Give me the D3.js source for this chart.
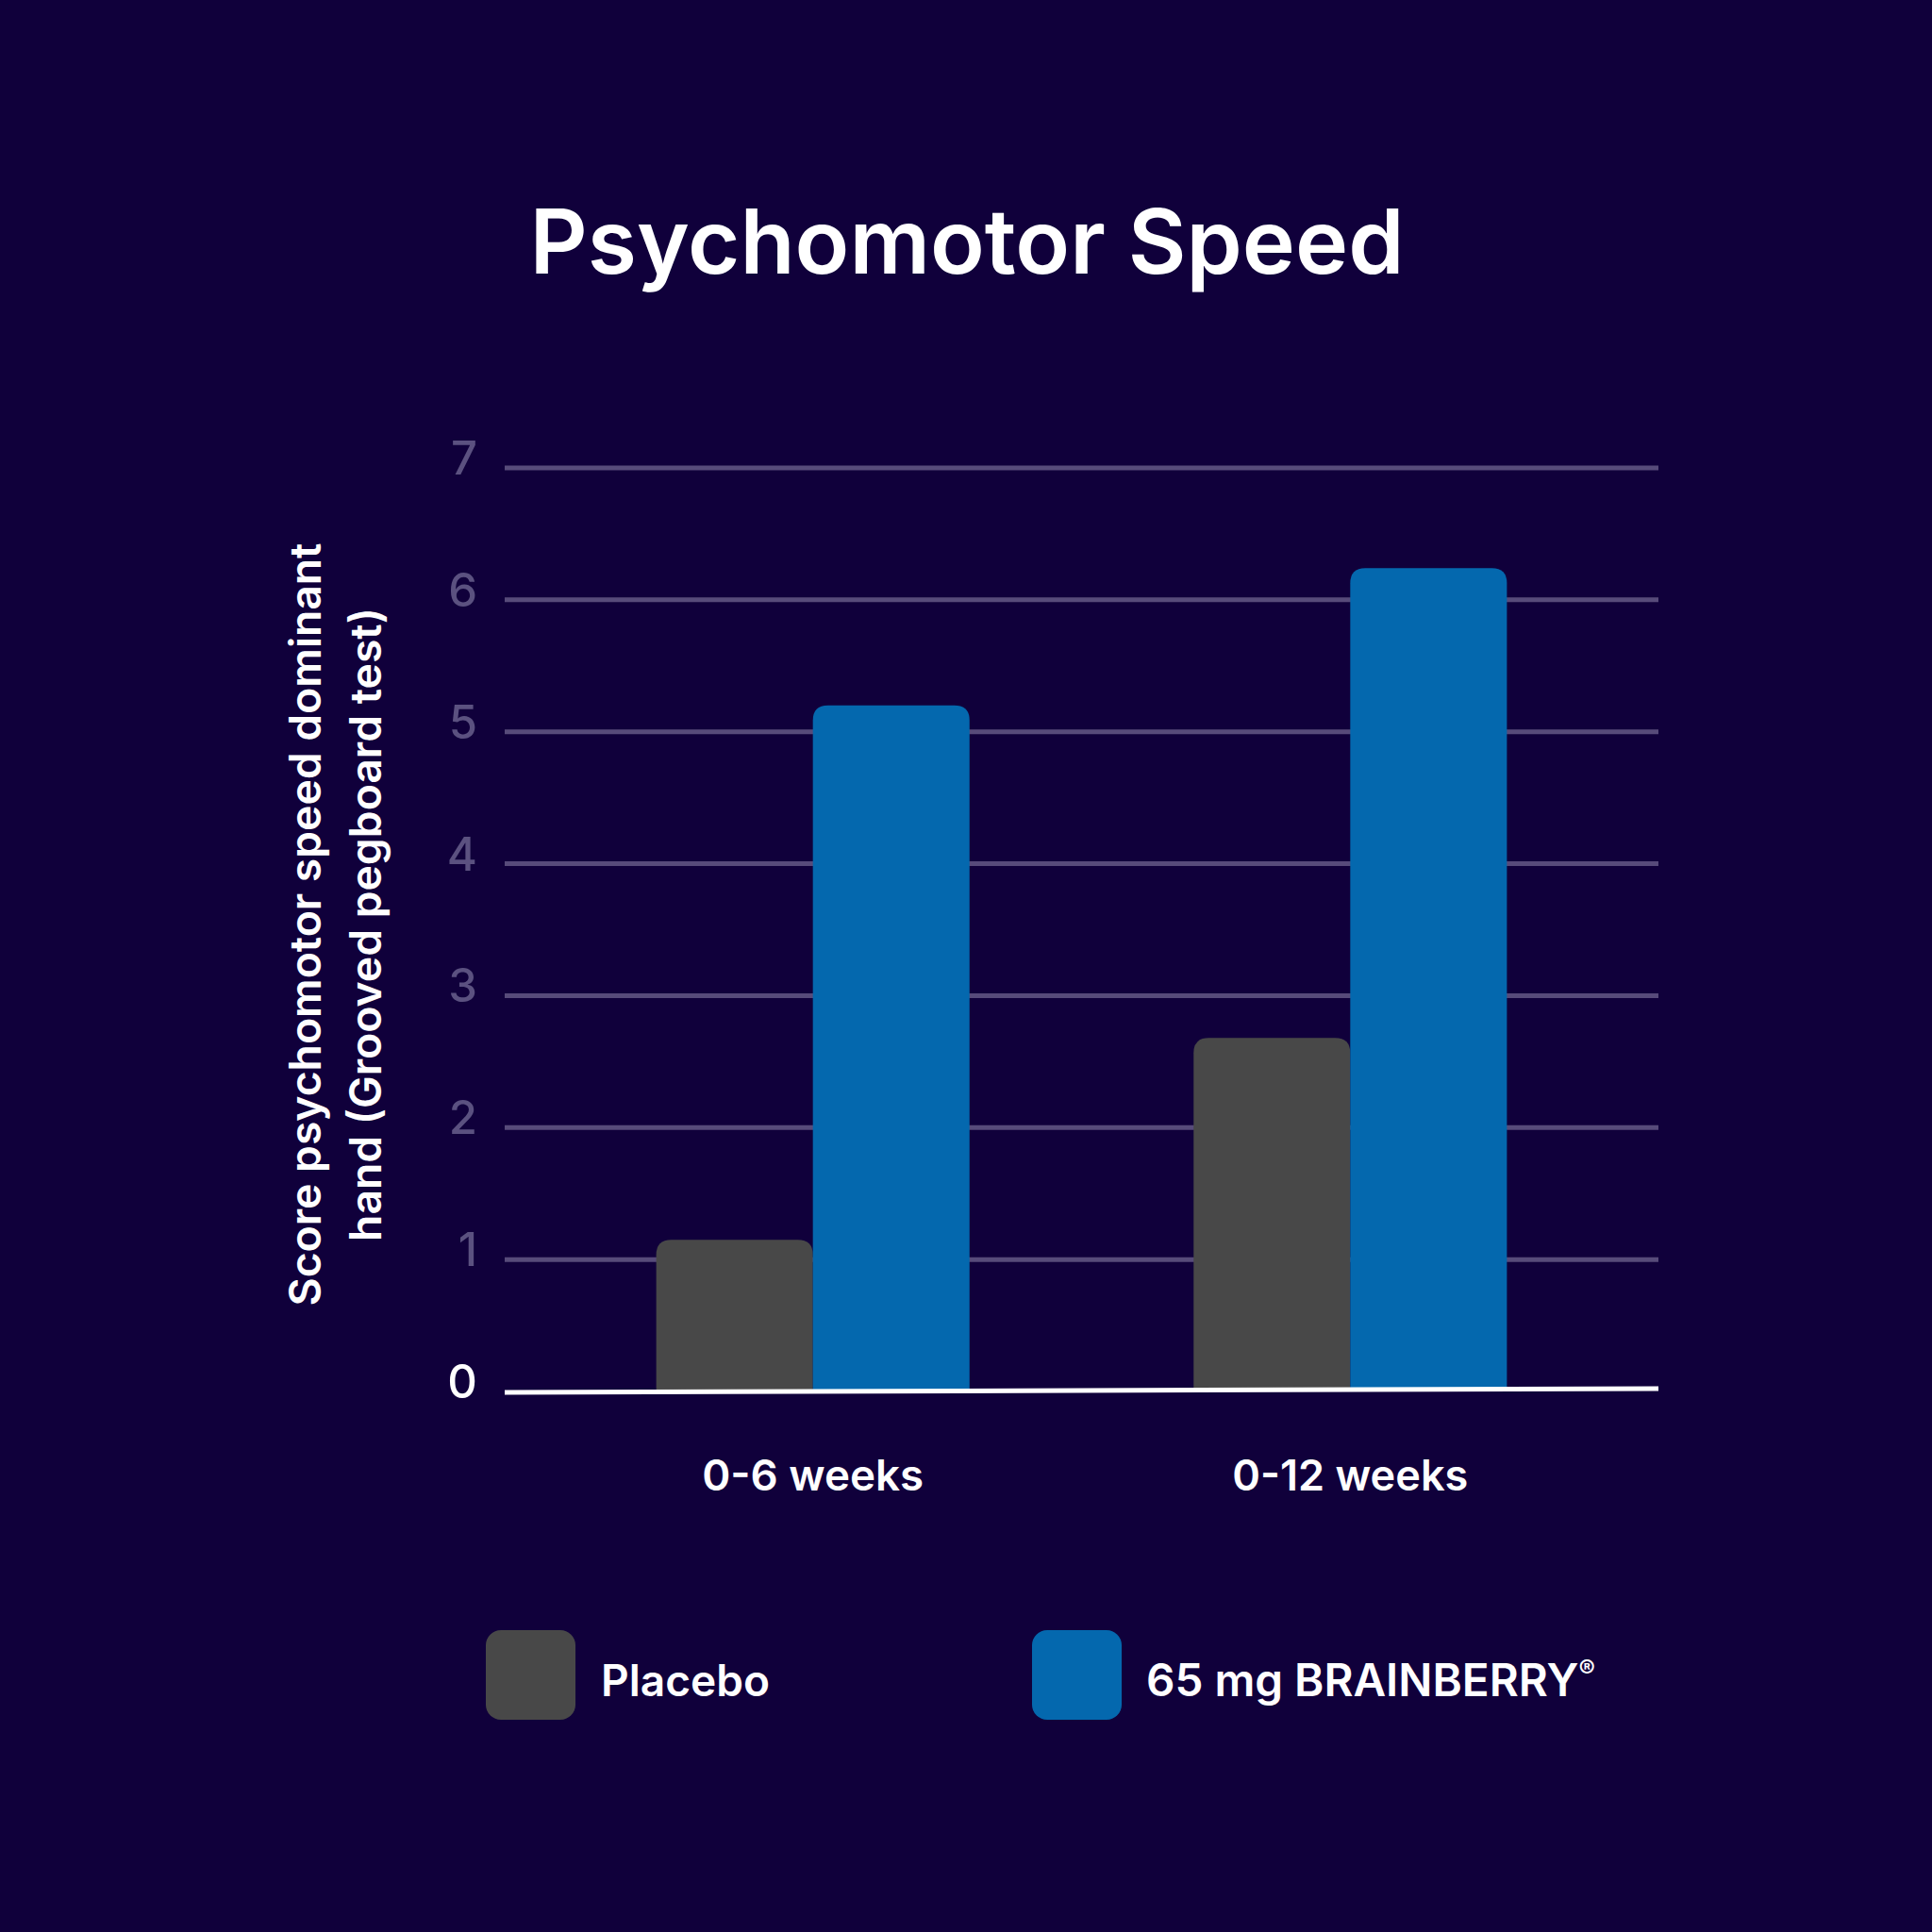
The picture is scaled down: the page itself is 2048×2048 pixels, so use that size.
<!DOCTYPE html>
<html>
<head>
<meta charset="utf-8">
<script src="https://cdn.jsdelivr.net/npm/d3@7"></script>
<style>
  html, body { margin: 0; padding: 0; background: #10003b; }
  svg { display: block; }
  text { font-family: Inter, "Open Sans", sans-serif; }
</style>
</head>
<body>
<svg id="chart" width="2048" height="2048"></svg>
<script>
const categories = ["0-6 weeks", "0-12 weeks"];
const seriesNames = ["Placebo", "65 mg BRAINBERRY"];
const placebo = [1.15, 2.68];
const brainberry = [5.2, 6.24];
const yTicks = [0, 1, 2, 3, 4, 5, 6, 7];
const chartTitle = "Psychomotor Speed";
const yTitleLines = ["Score psychomotor speed dominant", "hand (Grooved pegboard test)"];

const colors = { bg: "#10003b", placebo: "#484848", brain: "#0468ae", grid: "#574b7a", tick: "#5b5180", zero: "#ffffff", text: "#ffffff" };

const svg = d3.select("#chart");
svg.append("rect").attr("width", 2048).attr("height", 2048).attr("fill", colors.bg);

const plotLeft = 535, plotRight = 1758, plotTop = 496, plotBottom = 1475;

const y = d3.scaleLinear().domain([0, 7]).range([plotBottom, plotTop]);
const x0 = d3.scaleBand().domain(categories).range([plotLeft, plotRight]).paddingInner(0.417).paddingOuter(0.282);
const x1 = d3.scaleBand().domain(seriesNames).range([0, x0.bandwidth()]).padding(0);

function fit(sel, target) {
  const node = sel.node();
  const fs = parseFloat(sel.attr("font-size"));
  const len = node.getComputedTextLength();
  if (len > 0) sel.attr("font-size", fs * target / len);
}

// gridlines
const g = svg.append("g");
g.selectAll("line.grid").data(yTicks.filter(d => d > 0)).join("line")
  .attr("class", "grid")
  .attr("x1", plotLeft).attr("x2", plotRight)
  .attr("y1", d => y(d)).attr("y2", d => y(d))
  .attr("stroke", colors.grid).attr("stroke-width", 5);

// tick labels
g.selectAll("text.tick").data(yTicks).join("text")
  .attr("class", "tick")
  .attr("x", 506)
  .attr("y", d => y(d) + 7)
  .attr("text-anchor", "end")
  .attr("font-size", 49)
  .attr("font-weight", 500)
  .attr("fill", d => d === 0 ? "#ffffff" : colors.tick)
  .text(d => d);

// bars with rounded top corners
function topRounded(x, yTop, w, h, r) {
  r = Math.min(r, h, w / 2);
  return `M${x},${yTop + h} L${x},${yTop + r} Q${x},${yTop} ${x + r},${yTop} L${x + w - r},${yTop} Q${x + w},${yTop} ${x + w},${yTop + r} L${x + w},${yTop + h} Z`;
}
const barData = [];
categories.forEach((c, i) => {
  barData.push({ cat: c, series: seriesNames[0], v: placebo[i], color: colors.placebo });
  barData.push({ cat: c, series: seriesNames[1], v: brainberry[i], color: colors.brain });
});
svg.append("g").selectAll("path").data(barData).join("path")
  .attr("d", d => {
    const bx = x0(d.cat) + x1(d.series);
    const yt = y(d.v);
    return topRounded(bx, yt, x1.bandwidth(), y(0) - yt, 16);
  })
  .attr("fill", d => d.color);

// zero line
svg.append("line")
  .attr("x1", plotLeft).attr("x2", plotRight)
  .attr("y1", y(0) + 1).attr("y2", y(0) - 3)
  .attr("stroke", colors.zero).attr("stroke-width", 5);

// category labels
const catWidths = [235, 250];
svg.append("g").selectAll("text").data(categories).join("text")
  .attr("x", d => x0(d) + x0.bandwidth() / 2)
  .attr("y", 1580)
  .attr("text-anchor", "middle")
  .attr("font-size", 48)
  .attr("font-weight", 600)
  .attr("fill", colors.text)
  .text(d => d)
  .each(function(d, i) { fit(d3.select(this), catWidths[i]); });

// title
const t = svg.append("text")
  .attr("x", 1025).attr("y", 290)
  .attr("text-anchor", "middle")
  .attr("font-size", 106)
  .attr("font-weight", 600)
  .attr("fill", colors.text)
  .text(chartTitle);
fit(t, 927);

// y-axis title
const ytg = svg.append("g").attr("transform", "translate(356,980) rotate(-90)");
const ytWidths = [809, 672];
yTitleLines.forEach((line, i) => {
  const tx = ytg.append("text")
    .attr("x", 0).attr("y", i === 0 ? -16 : 48)
    .attr("text-anchor", "middle")
    .attr("font-size", 46)
    .attr("font-weight", 600)
    .attr("fill", colors.text)
    .text(line);
  fit(tx, ytWidths[i]);
});

// legend
const legendItems = [
  { name: seriesNames[0], color: colors.placebo, sx: 515, tx: 637, w: 179, reg: false },
  { name: seriesNames[1], color: colors.brain, sx: 1094, tx: 1215, w: 476, reg: true }
];
const lg = svg.append("g");
legendItems.forEach(it => {
  lg.append("rect")
    .attr("x", it.sx).attr("y", 1728).attr("width", 95).attr("height", 95)
    .attr("rx", 16).attr("ry", 16)
    .attr("fill", it.color);
  const tx = lg.append("text")
    .attr("x", it.tx).attr("y", 1798)
    .attr("font-size", 48)
    .attr("font-weight", 600)
    .attr("fill", colors.text);
  tx.append("tspan").text(it.name);
  if (it.reg) {
    tx.append("tspan").attr("font-size", "0.55em").attr("dy", -20).text("®");
  }
  fit(tx, it.w);
});
</script>
</body>
</html>
